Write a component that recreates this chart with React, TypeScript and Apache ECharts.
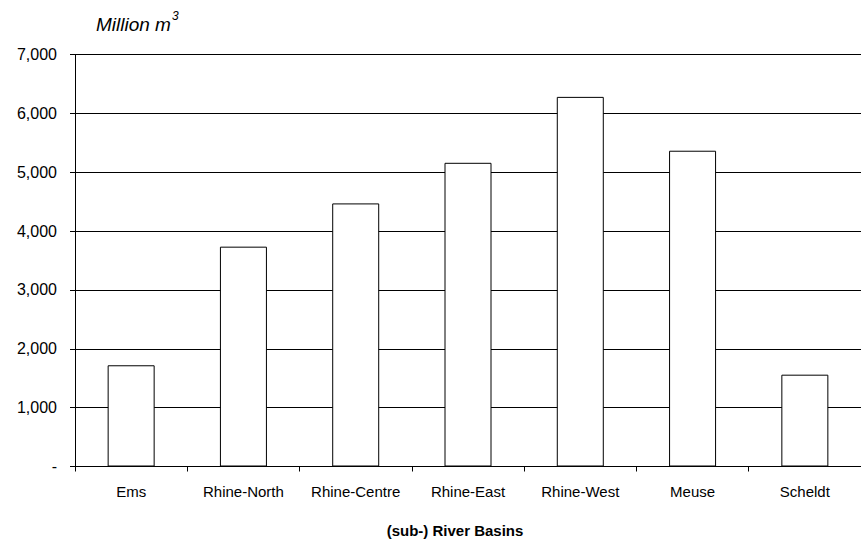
import React, { useEffect, useRef } from "react";
import * as echarts from "echarts";

const categories = ["Ems", "Rhine-North", "Rhine-Centre", "Rhine-East", "Rhine-West", "Meuse", "Scheldt"];
const volumes = [1720, 3735, 4470, 5160, 6280, 5365, 1560];
const yTicks = [0, 1000, 2000, 3000, 4000, 5000, 6000, 7000];
const yUnit = "Million m";
const xTitle = "(sub-) River Basins";

const FONT = "'Liberation Sans', Arial, sans-serif";

export default function App() {
  const ref = useRef<HTMLDivElement>(null);
  useEffect(() => {
    if (!ref.current) return;
    const chart = echarts.init(ref.current, null, { renderer: "svg" });
    chart.setOption({
      animation: false,
      backgroundColor: "#ffffff",
      grid: { left: 75, top: 54.5, width: 797, bottom: 74.5, containLabel: false },
      xAxis: {
        type: "category",
        data: categories,
        axisLine: { lineStyle: { color: "#000", width: 1 } },
        axisTick: { show: true, length: 5, lineStyle: { color: "#000" }, alignWithLabel: false },
        axisLabel: { color: "#000", fontFamily: FONT, fontSize: 15, margin: 17, interval: 0, hideOverlap: false },
        splitLine: { show: false },
      },
      yAxis: {
        type: "value",
        min: yTicks[0],
        max: yTicks[yTicks.length - 1],
        interval: 1000,
        axisLine: { show: true, lineStyle: { color: "#000", width: 1 } },
        axisTick: { show: true, length: 5, lineStyle: { color: "#000" } },
        axisLabel: {
          color: "#000",
          fontFamily: FONT,
          fontSize: 16,
          margin: 18,
          formatter: (v: number) => (v === 0 ? "-" : v.toLocaleString("en-US")),
        },
        splitLine: { show: true, lineStyle: { color: "#000", width: 1 } },
      },
      series: [
        {
          type: "bar",
          data: volumes,
          barWidth: 47,
          itemStyle: { color: "#fff", borderColor: "#000", borderWidth: 1 },
        },
      ],
      graphic: [
        {
          type: "text",
          left: 96,
          top: 10,
          style: {
            text: "{a|" + yUnit + "}{s|3}",
            rich: {
              a: { fontFamily: FONT, fontSize: 19, fontStyle: "italic", fill: "#000", verticalAlign: "bottom", lineHeight: 24 },
              s: { fontFamily: FONT, fontSize: 12, fontStyle: "italic", fill: "#000", verticalAlign: "top", lineHeight: 24, padding: [0, 0, 10, 1] },
            },
          },
        },
        {
          type: "text",
          x: 455,
          y: 530,
          style: {
            text: xTitle,
            fontFamily: FONT,
            fontSize: 15,
            fontWeight: "bold",
            fill: "#000",
            align: "center",
            verticalAlign: "middle",
          },
        },
      ],
    });
    return () => chart.dispose();
  }, []);
  return (
    <div style={{ position: "absolute", left: 0, top: 0, width: 861, height: 541, overflow: "hidden" }}>
      <div ref={ref} style={{ width: 861, height: 541 }} />
    </div>
  );
}
